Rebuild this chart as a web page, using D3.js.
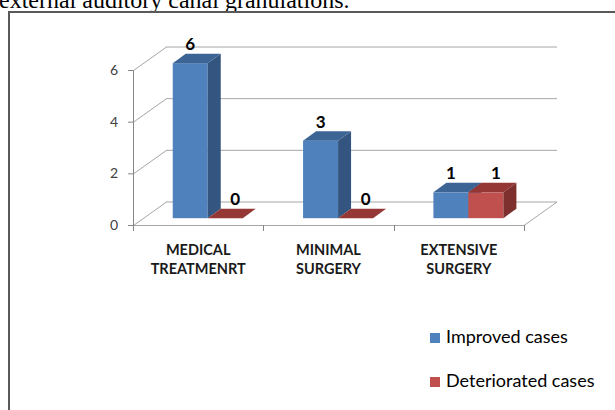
<!DOCTYPE html>
<html>
<head>
<meta charset="utf-8">
<script src="https://cdn.jsdelivr.net/npm/d3@7"></script>
<style>
  body { margin: 0; background: #fff; }
  svg { display: block; }
</style>
</head>
<body>
<script>
// data
const categories = [["MEDICAL", "TREATMENRT"], ["MINIMAL", "SURGERY"], ["EXTENSIVE", "SURGERY"]];
const seriesNames = ["Improved cases", "Deteriorated cases"];
const improved = [6, 3, 1];
const deteriorated = [0, 0, 1];
const yTicks = [0, 2, 4, 6];

const width = 615, height = 410;

const svg = d3.select("body").append("svg")
    .attr("width", width)
    .attr("height", height);

// page caption cut off at the top
svg.append("text")
    .attr("x", -1)
    .attr("y", 8)
    .attr("font-family", "Liberation Serif, Times New Roman, serif")
    .attr("font-size", 24)
    .attr("fill", "#000")
    .text("external auditory canal granulations.");

// figure frame
svg.append("path")
    .attr("d", "M9,410 V12 H615")
    .attr("fill", "none")
    .attr("stroke", "#595959")
    .attr("stroke-width", 2);

const catKeys = categories.map(c => c.join(" "));
const x0 = d3.scaleBand().domain(catKeys).range([133, 524]);
const x1 = d3.scaleBand().domain(seriesNames).range([0, 70]);
const y = d3.scaleLinear().domain([0, 6]).range([225, 70]);

// depth of the 3D box (front plane -> back wall)
const D = { x: 33, y: -23.5 };
// bars sit at a fraction of the depth
const fFront = 0.29, barDx = 13, barDy = -9.5;

const grid = svg.append("g").attr("fill", "none").attr("stroke", "#a6a6a6").attr("stroke-width", 1);

// back wall gridlines
grid.selectAll("line.back")
    .data(yTicks)
    .join("line")
    .attr("class", "back")
    .attr("x1", 133 + D.x)
    .attr("x2", x0.range()[1] + D.x)
    .attr("y1", d => y(d) + D.y + 0.5)
    .attr("y2", d => y(d) + D.y + 0.5);

// side wall diagonals
grid.selectAll("line.side")
    .data(yTicks)
    .join("line")
    .attr("class", "side")
    .attr("x1", 133.5)
    .attr("y1", d => y(d) + 0.5)
    .attr("x2", 133.5 + D.x)
    .attr("y2", d => y(d) + D.y + 0.5);

// floor
const xr = x0.range()[1];
grid.append("path")
    .attr("d", `M133,${y(0) + 0.5} H${xr} L${xr + D.x},${y(0) + D.y + 0.5}`);

// y axis (front)
const axisG = svg.append("g").attr("stroke", "#868686").attr("fill", "none");
axisG.append("line")
    .attr("x1", 133.5).attr("x2", 133.5)
    .attr("y1", y(6)).attr("y2", y(0) + 5);
axisG.selectAll("line.tick")
    .data(yTicks)
    .join("line")
    .attr("class", "tick")
    .attr("x1", 128).attr("x2", 133)
    .attr("y1", d => y(d) + 0.5).attr("y2", d => y(d) + 0.5);

// category ticks
axisG.selectAll("line.ctick")
    .data(catKeys.map(c => x0(c)).concat([xr]))
    .join("line")
    .attr("class", "ctick")
    .attr("x1", d => Math.round(d) + 0.5).attr("x2", d => Math.round(d) + 0.5)
    .attr("y1", y(0)).attr("y2", y(0) + 6);

svg.append("g")
    .selectAll("text")
    .data(yTicks)
    .join("text")
    .attr("x", 118)
    .attr("y", d => y(d) + 5)
    .attr("text-anchor", "end")
    .attr("font-family", "Lato, Open Sans, sans-serif")
    .attr("font-size", 14)
    .attr("fill", "#404040")
    .text(d => d);

// category labels
const catG = svg.append("g")
    .attr("font-family", "Lato, Open Sans, sans-serif")
    .attr("font-size", 14.5)
    .attr("font-weight", "bold")
    .attr("fill", "#1a1a1a")
    .attr("text-anchor", "middle");
categories.forEach((c, i) => {
    const cx = x0(catKeys[i]) + x0.bandwidth() / 2;
    c.forEach((line, j) => {
        catG.append("text")
            .attr("x", cx)
            .attr("y", 255 + j * 18.5)
            .text(line);
    });
});

// bars
const colors = {
    "Improved cases": { front: "#4F81BD", top: "#3C6494", side: "#34557F" },
    "Deteriorated cases": { front: "#C0504D", top: "#953735", side: "#7D302E" }
};
const labelShift = { "Improved cases": 0, "Deteriorated cases": 10 };

const bars = [];
catKeys.forEach((c, i) => {
    bars.push({ cat: c, s: seriesNames[0], v: improved[i] });
    bars.push({ cat: c, s: seriesNames[1], v: deteriorated[i] });
});

const barG = svg.append("g");
bars.forEach(b => {
    const w = x1.bandwidth();
    const xf = x0(b.cat) + (x0.bandwidth() - 70) / 2 + x1(b.s) + D.x * fFront;
    const yb = y(0) + D.y * fFront;
    const yt = y(b.v) + D.y * fFront;
    const col = colors[b.s];
    const g = barG.append("g");
    if (yb - yt > 0) {
        g.append("rect")
            .attr("x", xf).attr("y", yt)
            .attr("width", w).attr("height", yb - yt)
            .attr("fill", col.front);
        g.append("path")
            .attr("d", `M${xf + w},${yt} L${xf + w + barDx},${yt + barDy} L${xf + w + barDx},${yb + barDy} L${xf + w},${yb} Z`)
            .attr("fill", col.side);
    }
    g.append("path")
        .attr("d", `M${xf},${yt} L${xf + w},${yt} L${xf + w + barDx},${yt + barDy} L${xf + barDx},${yt + barDy} Z`)
        .attr("fill", col.top);
    g.append("text")
        .attr("x", xf + w / 2 + labelShift[b.s])
        .attr("y", yt - 13)
        .attr("text-anchor", "middle")
        .attr("font-family", "Lato, Open Sans, sans-serif")
        .attr("font-size", 17)
        .attr("font-weight", "bold")
        .attr("fill", "#000")
        .text(b.v);
});

// legend
const legend = svg.append("g");
seriesNames.forEach((s, i) => {
    legend.append("rect")
        .attr("x", 430).attr("y", 333 + i * 44)
        .attr("width", 10).attr("height", 10)
        .attr("fill", colors[s].front);
    legend.append("text")
        .attr("x", 446).attr("y", 343 + i * 44)
        .attr("font-family", "Lato, Open Sans, sans-serif")
        .attr("font-size", 18)
        .attr("fill", "#000")
        .text(s);
});
</script>
</body>
</html>
